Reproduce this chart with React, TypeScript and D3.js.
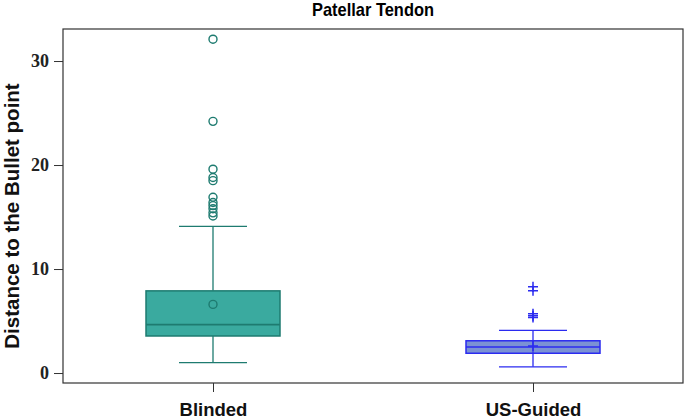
import React, { useEffect, useRef } from "react";
import * as d3 from "d3";

const groups = ["Blinded", "US-Guided"];
const q1s = [3.56, 1.9];
const medians = [4.65, 2.5];
const q3s = [7.9, 3.1];
const means = [6.6, 2.6];
const whiskerLows = [1.0, 0.6];
const whiskerHighs = [14.1, 4.1];
const blindedOutliers = [32.1, 24.2, 19.6, 18.8, 18.5, 16.9, 16.4, 16.1, 15.8, 15.4, 15.1];
const guidedOutliers = [8.3, 7.9, 5.7, 5.5, 5.35];
const yTicks = [0, 10, 20, 30];

const fills = ["#3aaa9f", "#7b92d4"];
const strokes = ["#1e7b70", "#2b2bf0"];

const App = () => {
  const svgRef = useRef<SVGSVGElement>(null);

  useEffect(() => {
    const width = 685;
    const height = 420;
    const margin = { top: 29, right: 2, bottom: 37, left: 63 };

    const svg = d3.select(svgRef.current);
    svg.selectAll("*").remove();
    svg.attr("width", width).attr("height", height).style("background", "#fff");

    const x = d3
      .scalePoint<string>()
      .domain(groups)
      .range([margin.left, width - margin.right])
      .padding(0.46875);

    const y = d3
      .scaleLinear()
      .domain([-0.96, 33.08])
      .range([height - margin.bottom, margin.top]);

    const boxHalf = 67;
    const capHalf = 34;

    // title (narrow bold face in the original)
    svg
      .append("text")
      .attr("x", 373)
      .attr("y", 16)
      .attr("text-anchor", "middle")
      .attr("textLength", 122)
      .attr("lengthAdjust", "spacingAndGlyphs")
      .style("font-family", "'Liberation Sans', Arial, sans-serif")
      .style("font-weight", "bold")
      .style("font-size", "19px")
      .text("Patellar Tendon");

    // frame
    svg
      .append("rect")
      .attr("x", margin.left)
      .attr("y", margin.top)
      .attr("width", width - margin.left - margin.right)
      .attr("height", height - margin.top - margin.bottom)
      .attr("fill", "none")
      .attr("stroke", "#333")
      .attr("stroke-width", 1.2);

    // y axis
    const yAxis = svg
      .append("g")
      .attr("transform", `translate(${margin.left},0)`)
      .call(d3.axisLeft(y).tickValues(yTicks).tickSize(9).tickPadding(5));
    yAxis.select(".domain").remove();
    yAxis.selectAll("line").attr("stroke", "#333");
    yAxis
      .selectAll("text")
      .attr("fill", "#222")
      .style("font-family", "'Liberation Serif', 'Times New Roman', serif")
      .style("font-weight", "bold")
      .style("font-size", "18px");

    // x axis
    const xAxis = svg
      .append("g")
      .attr("transform", `translate(0,${height - margin.bottom})`)
      .call(d3.axisBottom(x).tickSize(9).tickPadding(11));
    xAxis.select(".domain").remove();
    xAxis.selectAll("line").attr("stroke", "#333");
    xAxis
      .selectAll("text")
      .attr("fill", "#111")
      .style("font-family", "'Liberation Sans', Arial, sans-serif")
      .style("font-weight", "bold")
      .style("font-size", "18.5px");

    // y label
    svg
      .append("text")
      .attr("transform", `translate(19,216) rotate(-90)`)
      .attr("text-anchor", "middle")
      .attr("fill", "#111")
      .style("font-family", "'Liberation Sans', Arial, sans-serif")
      .style("font-weight", "bold")
      .style("font-size", "20.5px")
      .text("Distance to the Bullet point");

    groups.forEach((g, i) => {
      const cx = x(g) as number;
      const gEl = svg.append("g");
      const stroke = strokes[i];

      // whiskers
      gEl
        .append("line")
        .attr("x1", cx)
        .attr("x2", cx)
        .attr("y1", y(whiskerHighs[i]))
        .attr("y2", y(q3s[i]))
        .attr("stroke", stroke)
        .attr("stroke-width", 1.3);
      gEl
        .append("line")
        .attr("x1", cx)
        .attr("x2", cx)
        .attr("y1", y(q1s[i]))
        .attr("y2", y(whiskerLows[i]))
        .attr("stroke", stroke)
        .attr("stroke-width", 1.3);
      [whiskerHighs[i], whiskerLows[i]].forEach((v) => {
        gEl
          .append("line")
          .attr("x1", cx - capHalf)
          .attr("x2", cx + capHalf)
          .attr("y1", y(v))
          .attr("y2", y(v))
          .attr("stroke", stroke)
          .attr("stroke-width", 1.3);
      });

      // box
      gEl
        .append("rect")
        .attr("x", cx - boxHalf)
        .attr("y", y(q3s[i]))
        .attr("width", boxHalf * 2)
        .attr("height", y(q1s[i]) - y(q3s[i]))
        .attr("fill", fills[i])
        .attr("stroke", stroke)
        .attr("stroke-width", 1.5);

      gEl
        .append("line")
        .attr("x1", cx - boxHalf)
        .attr("x2", cx + boxHalf)
        .attr("y1", y(medians[i]))
        .attr("y2", y(medians[i]))
        .attr("stroke", stroke)
        .attr("stroke-width", 1.6);

      // the US-Guided whisker shows through its box
      if (i === 1) {
        gEl
          .append("line")
          .attr("x1", cx)
          .attr("x2", cx)
          .attr("y1", y(q3s[i]))
          .attr("y2", y(q1s[i]))
          .attr("stroke", stroke)
          .attr("stroke-width", 1.2);
      }
    });

    // mean + outliers
    const bx = x("Blinded") as number;
    svg
      .append("circle")
      .attr("cx", bx)
      .attr("cy", y(means[0]))
      .attr("r", 4)
      .attr("fill", "none")
      .attr("stroke", strokes[0])
      .attr("stroke-width", 1.4);

    svg
      .append("g")
      .selectAll("circle")
      .data(blindedOutliers)
      .enter()
      .append("circle")
      .attr("cx", bx)
      .attr("cy", (d) => y(d))
      .attr("r", 4)
      .attr("fill", "none")
      .attr("stroke", strokes[0])
      .attr("stroke-width", 1.4);

    const ux = x("US-Guided") as number;
    const plus = (v: number) => {
      const py = y(v);
      svg
        .append("path")
        .attr("d", `M${ux - 5},${py}H${ux + 5}M${ux},${py - 5}V${py + 5}`)
        .attr("stroke", strokes[1])
        .attr("stroke-width", 1.5)
        .attr("fill", "none");
    };
    plus(means[1]);
    guidedOutliers.forEach(plus);
  }, []);

  return (
    <svg
      ref={svgRef}
      style={{ position: "fixed", left: 0, top: 0, display: "block" }}
    />
  );
};

export default App;
